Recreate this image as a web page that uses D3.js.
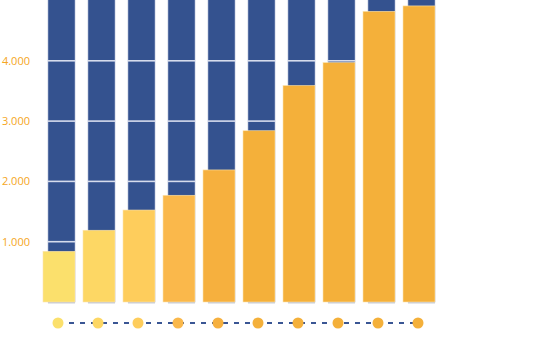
<!DOCTYPE html>
<html>
<head>
<meta charset="utf-8">
<script src="https://cdn.jsdelivr.net/npm/d3@7"></script>
<style>
  body { margin: 0; background: #fff; }
  svg { display: block; }
</style>
</head>
<body>
<div id="chart"></div>
<script>
// 数据
const categories = ['c1', 'c2', 'c3', 'c4', 'c5', 'c6', 'c7', 'c8', 'c9', 'c10'];
const frontValues = [840, 1190, 1525, 1770, 2190, 2840, 3590, 3970, 4820, 4910];
const backValues = [5400, 5400, 5400, 5400, 5400, 5400, 5400, 5400, 5400, 5400];
const frontColors = ['#fbe06c', '#fdd764', '#fecd5c', '#fab84b', '#f6b03e', '#f4b03a', '#f4b03a', '#f4b03a', '#f4b03a', '#f4b03a'];
const yTicks = [1000, 2000, 3000, 4000];

const width = 555, height = 353;

const svg = d3.select('#chart').append('svg')
  .attr('width', width)
  .attr('height', height);

// 比例尺
const x = d3.scaleBand()
  .domain(categories)
  .range([38, 438])
  .paddingInner(0);

const y = d3.scaleLinear()
  .domain([0, 5000])
  .range([302, 0.5]);

const fmt = d => d3.format(',')(d).replace(/,/g, '.');

// 裁剪区域（蓝色柱子超出顶部）
svg.append('clipPath')
  .attr('id', 'clip')
  .append('rect')
  .attr('x', 0).attr('y', 0)
  .attr('width', width).attr('height', 310);

const plot = svg.append('g').attr('clip-path', 'url(#clip)');

// 蓝色背景柱 + 阴影
plot.selectAll('.back-shadow')
  .data(backValues)
  .enter().append('rect')
  .attr('x', (d, i) => x(categories[i]) + 10)
  .attr('y', 302)
  .attr('width', 27)
  .attr('height', 1.5)
  .attr('fill', '#c9cdd8');

plot.selectAll('.back')
  .data(backValues)
  .enter().append('rect')
  .attr('class', 'back')
  .attr('x', (d, i) => x(categories[i]) + 10)
  .attr('y', d => y(d))
  .attr('width', 27)
  .attr('height', d => y(0) - y(d))
  .attr('fill', '#34528f')
  .attr('stroke', '#aab6d2')
  .attr('stroke-width', 0.6);

// 网格线（只在柱子上可见）
yTicks.forEach(t => {
  plot.selectAll(null)
    .data(categories)
    .enter().append('line')
    .attr('x1', d => x(d) + 10)
    .attr('x2', d => x(d) + 37)
    .attr('y1', y(t))
    .attr('y2', y(t))
    .attr('stroke', '#d6dcec')
    .attr('stroke-width', 1.6);
});

// 前景柱
plot.selectAll('.front')
  .data(frontValues)
  .enter().append('rect')
  .attr('class', 'front')
  .attr('x', (d, i) => x(categories[i]) + 5)
  .attr('y', d => y(d))
  .attr('width', 32)
  .attr('height', d => y(0) - y(d))
  .attr('fill', (d, i) => frontColors[i])
  .attr('stroke', '#fbe3b0')
  .attr('stroke-width', 0.6);

// y 轴标签
svg.selectAll('.ylabel')
  .data(yTicks)
  .enter().append('text')
  .attr('x', 30)
  .attr('y', d => y(d) + 4)
  .attr('text-anchor', 'end')
  .style('font-family', 'Open Sans, sans-serif')
  .style('font-size', '11px')
  .style('fill', '#f5a623')
  .text(fmt);

// 底部虚线 + 圆点
const dotY = 323;
const cx = d => x(d) + 20;
svg.append('line')
  .attr('x1', cx(categories[0]))
  .attr('x2', cx(categories[categories.length - 1]))
  .attr('y1', dotY).attr('y2', dotY)
  .attr('stroke', '#3a5694')
  .attr('stroke-width', 2)
  .attr('stroke-dasharray', '5,6');

svg.selectAll('.dot')
  .data(categories)
  .enter().append('circle')
  .attr('cx', cx)
  .attr('cy', dotY)
  .attr('r', 5.5)
  .attr('fill', (d, i) => frontColors[i]);
</script>
</body>
</html>
